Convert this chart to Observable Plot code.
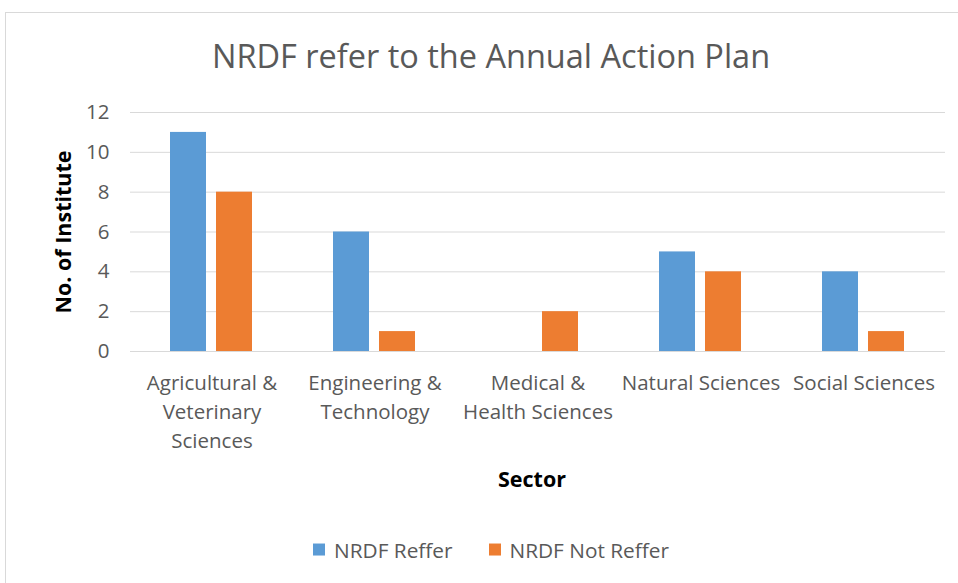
<!DOCTYPE html>
<html>
<head>
<meta charset="utf-8">
<script src="https://cdn.jsdelivr.net/npm/d3@7"></script>
<script src="https://cdn.jsdelivr.net/npm/@observablehq/plot@0.6"></script>
<style>
  html, body { margin: 0; padding: 0; background: #fff; overflow: hidden; }
  #wrap { position: relative; width: 958px; height: 583px; font-family: "Open Sans", sans-serif; }
  #frame { position: absolute; left: 5px; top: 12px; width: 972px; height: 600px; border: 1px solid #d9d9d9; box-sizing: border-box; }
  #title { position: absolute; left: 5px; width: 972px; top: 56px; transform: translateY(-50%); text-align: center; font-size: 32.5px; color: #595959; line-height: 1; }
  #ylab { position: absolute; left: 62px; top: 232px; transform: translate(-50%, -50%) rotate(-90deg); font-size: 21.5px; font-weight: bold; color: #000; white-space: nowrap; }
  #xlab { position: absolute; left: 532px; top: 478px; transform: translate(-50%, -50%); font-size: 21.5px; font-weight: bold; color: #000; }
  #legend { position: absolute; left: 5px; width: 972px; top: 550px; transform: translateY(-50%); display: flex; justify-content: center; gap: 36px; font-size: 20.8px; color: #595959; line-height: 1.2; }
  .item { display: flex; align-items: center; gap: 9px; }
  .sw { width: 12px; height: 12px; display: inline-block; }
  #chart { position: absolute; left: 0; top: 0; }
</style>
</head>
<body>
<div id="wrap">
  <div id="frame"></div>
  <div id="chart"></div>
  <div id="title"></div>
  <div id="ylab"></div>
  <div id="xlab"></div>
  <div id="legend"></div>
</div>
<script>
const titleText = "NRDF refer to the Annual Action Plan";
const yTitle = "No. of Institute";
const xTitle = "Sector";
const categories = [
  "Agricultural & Veterinary Sciences",
  "Engineering & Technology",
  "Medical & Health Sciences",
  "Natural Sciences",
  "Social Sciences"
];
const tickLabels = [
  "Agricultural &\nVeterinary\nSciences",
  "Engineering &\nTechnology",
  "Medical &\nHealth Sciences",
  "Natural Sciences",
  "Social Sciences"
];
const series = ["NRDF Reffer", "NRDF Not Reffer"];
const reffer = [11, 6, 0, 5, 4];
const notReffer = [8, 1, 2, 4, 1];
const colors = ["#5b9bd5", "#ed7d31"];
const yTicks = [0, 2, 4, 6, 8, 10, 12];

const data = [];
categories.forEach((c, i) => {
  data.push({category: c, series: series[0], value: reffer[i]});
  data.push({category: c, series: series[1], value: notReffer[i]});
});
const labelOf = new Map(categories.map((c, i) => [c, tickLabels[i]]));

const W = 958, H = 500;
const chart = Plot.plot({
  width: W,
  height: H,
  marginLeft: 129,
  marginRight: 13,
  marginTop: 112,
  marginBottom: H - 351,
  style: {fontFamily: "'Open Sans', sans-serif", background: "transparent", overflow: "visible"},
  fx: {domain: categories, padding: 0, label: null},
  x: {domain: series, paddingInner: 0.213, paddingOuter: 0.843, axis: null},
  y: {domain: [0, 12], axis: null},
  color: {domain: series, range: colors},
  marks: [
    Plot.ruleY(yTicks, {y: d => d, stroke: "#d9d9d9", strokeWidth: 1}),
    Plot.barY(data, {fx: "category", x: "series", y: "value", fill: "series"}),
    Plot.axisFx({anchor: "bottom", tickSize: 0, tickPadding: 18, fontSize: 20.5, fill: "#595959", lineHeight: 1.415, tickFormat: d => labelOf.get(d), label: null}),
    Plot.axisY(yTicks, {anchor: "left", tickSize: 0, tickPadding: 21, fontSize: 20.5, fill: "#595959", label: null})
  ]
});
document.getElementById("chart").appendChild(chart);
document.getElementById("title").textContent = titleText;
document.getElementById("ylab").textContent = yTitle;
document.getElementById("xlab").textContent = xTitle;
const lg = document.getElementById("legend");
series.forEach((s, i) => {
  const it = document.createElement("div");
  it.className = "item";
  const sw = document.createElement("span");
  sw.className = "sw";
  sw.style.background = colors[i];
  const t = document.createElement("span");
  t.textContent = s;
  it.appendChild(sw); it.appendChild(t);
  lg.appendChild(it);
});
</script>
</body>
</html>
